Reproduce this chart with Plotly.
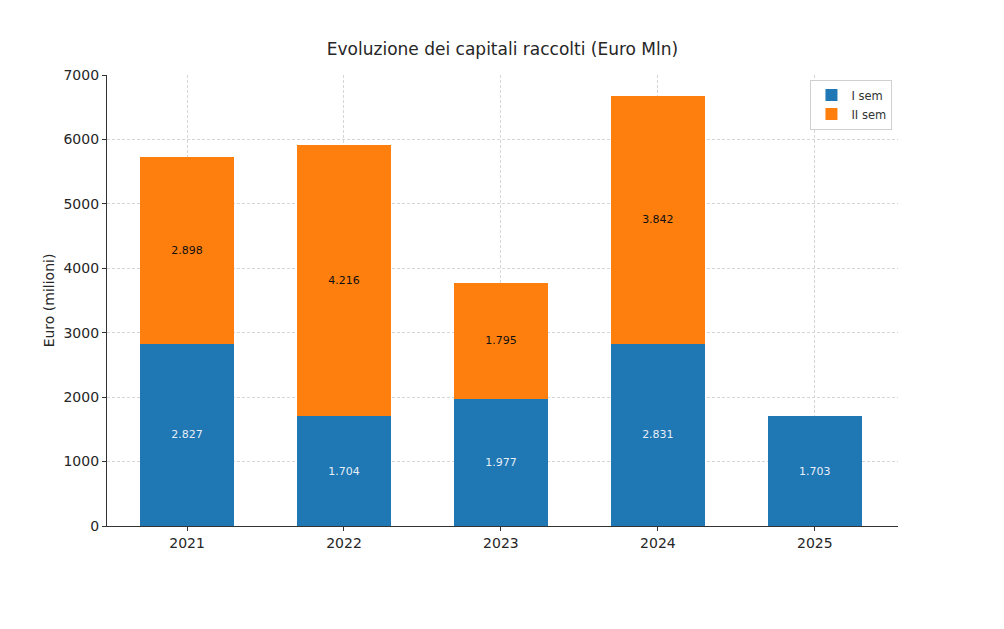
import plotly.graph_objects as go

years = ["2021", "2022", "2023", "2024", "2025"]
sem1 = [2827, 1704, 1977, 2831, 1703]
sem2 = [2898, 4216, 1795, 3842, None]
sem1_labels = ["2.827", "1.704", "1.977", "2.831", "1.703"]
sem2_labels = ["2.898", "4.216", "1.795", "3.842", ""]

x_pos = list(range(len(years)))

fig = go.Figure()
fig.add_trace(go.Bar(
    x=x_pos, y=sem1, name="I sem", width=0.6,
    marker=dict(color="#1f77b4", line=dict(width=0)),
    text=sem1_labels, textposition="inside", insidetextanchor="middle",
    textfont=dict(color="#e6eef6", size=11, family="DejaVu Sans"),
    hoverinfo="skip",
))
fig.add_trace(go.Bar(
    x=x_pos, y=sem2, name="II sem", width=0.6,
    marker=dict(color="#ff7f0e", line=dict(width=0)),
    text=sem2_labels, textposition="inside", insidetextanchor="middle",
    textfont=dict(color="#111111", size=11, family="DejaVu Sans"),
    hoverinfo="skip",
))

fig.update_layout(
    barmode="stack",
    width=1004, height=629,
    margin=dict(l=99, r=114, t=67, b=111),
    paper_bgcolor="white", plot_bgcolor="white",
    font=dict(family="DejaVu Sans", color="#262626"),
    title=dict(text="Evoluzione dei capitali raccolti (Euro Mln)",
               xref="paper", x=0.5, xanchor="center", y=0.935, yanchor="middle",
               font=dict(size=17, color="#262626")),
    uniformtext=dict(mode="show", minsize=8),
    legend=dict(x=0.993, xanchor="right", y=0.99, yanchor="top",
                bgcolor="rgba(255,255,255,0.9)", bordercolor="#d0d0d0", borderwidth=1,
                font=dict(size=11.5, color="#333333"), traceorder="normal",
                itemwidth=30),
    showlegend=True,
)
fig.update_xaxes(
    range=[-0.51, 4.53], tickmode="array", tickvals=x_pos, ticktext=years,
    showgrid=True, gridcolor="#d6d6d6", griddash="3px,2px", gridwidth=0.8,
    showline=True, linecolor="#333333", linewidth=1.2,
    ticks="outside", ticklen=4, tickcolor="#333333",
    tickfont=dict(size=14, color="#262626"),
    layer="above traces", zeroline=False,
)
fig.update_yaxes(
    range=[0, 7000], tickmode="array", tickvals=[0, 1000, 2000, 3000, 4000, 5000, 6000, 7000],
    showgrid=True, gridcolor="#d6d6d6", griddash="3px,2px", gridwidth=0.8,
    showline=True, linecolor="#333333", linewidth=1.2,
    ticks="outside", ticklen=4, tickcolor="#333333",
    tickfont=dict(size=14, color="#262626"),
    title=dict(text="Euro (milioni)", font=dict(size=14, color="#262626"), standoff=5),
    layer="above traces", zeroline=False,
)

fig.write_html("out.html")
